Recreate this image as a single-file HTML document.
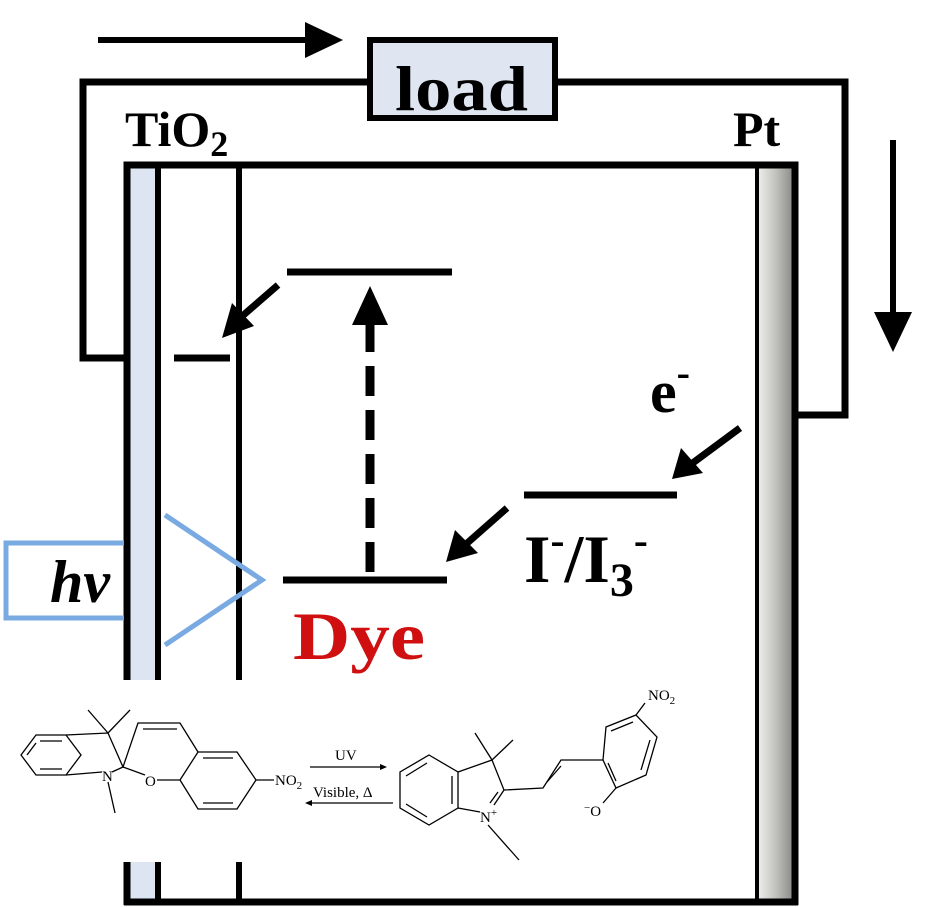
<!DOCTYPE html>
<html><head><style>
html,body{margin:0;padding:0;background:#fff;}
svg{display:block;}
</style></head><body>
<svg width="938" height="907" viewBox="0 0 938 907" xmlns="http://www.w3.org/2000/svg">
<defs>
<linearGradient id="pt" x1="0" x2="1" y1="0" y2="0">
<stop offset="0" stop-color="#f0f0ee"/><stop offset="0.5" stop-color="#c4c4c0"/><stop offset="1" stop-color="#8a8a86"/>
</linearGradient>
</defs>
<!-- external wire -->
<polyline points="370,82 83,82 83,358 128,358" fill="none" stroke="#000" stroke-width="7"/>
<polyline points="555,82 845,82 845,415 795,415" fill="none" stroke="#000" stroke-width="7"/>
<!-- load -->
<rect x="370" y="40" width="185" height="78" fill="#dfe6f2" stroke="#000" stroke-width="6"/>
<text x="395" y="110" textLength="133" lengthAdjust="spacingAndGlyphs" font-family="Liberation Serif" font-weight="bold" font-size="64">load</text>
<!-- top arrow -->
<line x1="98" y1="40" x2="310" y2="40" stroke="#000" stroke-width="6"/>
<polygon points="305,22 343,40 305,58" fill="#000"/>
<!-- right arrow -->
<line x1="893" y1="140" x2="893" y2="318" stroke="#000" stroke-width="6"/>
<polygon points="874,312 912,312 893,352" fill="#000"/>
<!-- labels -->
<text x="125" y="146" font-family="Liberation Serif" font-weight="bold" font-size="50">TiO<tspan font-size="36" dy="10">2</tspan></text>
<text x="733" y="146" font-family="Liberation Serif" font-weight="bold" font-size="50">Pt</text>
<!-- cell -->
<rect x="130" y="167" width="25" height="735" fill="#dde5f2"/>
<rect x="757" y="167" width="36" height="735" fill="url(#pt)"/>
<polyline points="127,905 127,165 795,165 795,905" fill="none" stroke="#000" stroke-width="7"/>
<line x1="124" y1="902" x2="798" y2="902" stroke="#000" stroke-width="7"/>
<line x1="158" y1="165" x2="158" y2="905" stroke="#000" stroke-width="6"/>
<line x1="239" y1="165" x2="239" y2="905" stroke="#000" stroke-width="6"/>
<line x1="757" y1="165" x2="757" y2="905" stroke="#000" stroke-width="4"/>
<!-- energy levels -->
<line x1="174" y1="358" x2="230" y2="358" stroke="#000" stroke-width="7"/>
<line x1="287" y1="272" x2="452" y2="272" stroke="#000" stroke-width="7"/>
<line x1="283" y1="580" x2="447" y2="580" stroke="#000" stroke-width="7"/>
<line x1="524" y1="495" x2="677" y2="495" stroke="#000" stroke-width="7"/>
<!-- dashed arrow -->
<line x1="370" y1="572" x2="370" y2="318" stroke="#000" stroke-width="9" stroke-dasharray="30,14"/>
<polygon points="352,325 388,325 370,286" fill="#000"/>
<!-- diagonal arrows -->
<line x1="278" y1="285" x2="240" y2="318" stroke="#000" stroke-width="7"/>
<polygon points="222,338 232,303 254,326" fill="#000"/>
<line x1="740" y1="428" x2="690" y2="465" stroke="#000" stroke-width="7"/>
<polygon points="672,479 681,448 703,473" fill="#000"/>
<line x1="507" y1="508" x2="465" y2="545" stroke="#000" stroke-width="7"/>
<polygon points="446,562 455,530 478,553" fill="#000"/>
<!-- texts -->
<text x="650" y="412" font-family="Liberation Serif" font-weight="bold" font-size="60">e<tspan font-size="40" dy="-26">-</tspan></text>
<text x="524" y="582" font-family="Liberation Serif" font-weight="bold" font-size="68">I<tspan font-size="42" dy="-28">-</tspan><tspan dy="28">/I</tspan><tspan font-size="48" dy="14">3</tspan><tspan font-size="42" dy="-42">-</tspan></text>
<text x="293" y="659" textLength="132" lengthAdjust="spacingAndGlyphs" font-family="Liberation Serif" font-weight="bold" font-size="68" fill="#d01010">Dye</text>
<!-- hv -->
<polyline points="124,543 6,543 6,618 124,618" fill="none" stroke="#7aaae2" stroke-width="5"/>
<text x="50" y="602" font-family="Liberation Serif" font-weight="bold" font-style="italic" font-size="60">hv</text>
<polyline points="165,515 262,580 165,645" fill="none" stroke="#7aaae2" stroke-width="5"/>
<!-- white overlay for chemical -->
<rect x="0" y="680" width="755" height="182" fill="#fff"/>
<g stroke="#000" stroke-width="1.3" fill="none">
<polygon points="36,735 66,735 81,755 66,775 36,775 21,755"/>
<line x1="40" y1="741" x2="62" y2="741"/><line x1="40" y1="769" x2="62" y2="769"/><line x1="27" y1="755" x2="36" y2="743"/>
<polyline points="66,735 108,733 123,767 112,772"/>
<line x1="66" y1="775" x2="102" y2="772"/>
<line x1="108" y1="733" x2="88" y2="710"/><line x1="108" y1="733" x2="130" y2="710"/>
<line x1="108" y1="782" x2="115" y2="813"/>
<polyline points="123,767 138,723 180,723 198,752"/>
<line x1="143" y1="729" x2="177" y2="729"/>
<line x1="123" y1="767" x2="145" y2="775"/>
<line x1="157" y1="780" x2="180" y2="780"/>
<polygon points="198,752 237,752 256,780 237,809 198,809 180,780"/>
<line x1="203" y1="758" x2="233" y2="758"/><line x1="203" y1="803" x2="233" y2="803"/>
<line x1="256" y1="780" x2="274" y2="780"/>
<line x1="310" y1="767" x2="380" y2="767"/>
<line x1="393" y1="803" x2="312" y2="803"/>
<polygon points="429,755 458,772 458,808 429,825 400,808 400,772"/>
<line x1="406" y1="776" x2="427" y2="763"/><line x1="406" y1="804" x2="427" y2="817"/><line x1="452" y1="776" x2="452" y2="804"/>
<polyline points="458,772 492,760 504,790 494,805"/>
<line x1="458" y1="808" x2="480" y2="812"/>
<line x1="498" y1="792" x2="490" y2="803"/>
<line x1="492" y1="760" x2="475" y2="733"/><line x1="492" y1="760" x2="513" y2="740"/>
<line x1="488" y1="825" x2="519" y2="860"/>
<polyline points="504,790 543,788 561,760 603,760"/>
<line x1="547" y1="782" x2="561" y2="766"/>
<polygon points="603,760 606,727 636,715 657,737 646,775 616,788"/>
<line x1="611" y1="731" x2="633" y2="722"/><line x1="650" y1="740" x2="641" y2="770"/><line x1="608" y1="763" x2="616" y2="781"/>
<line x1="636" y1="715" x2="645" y2="703"/>
<line x1="616" y1="788" x2="603" y2="803"/>
</g>
<polygon points="380,764 387,767 380,770" fill="#000"/>
<polygon points="312,800 305,803 312,806" fill="#000"/>
<g font-family="Liberation Serif" font-size="15" fill="#000">
<text x="102" y="781">N</text>
<text x="145" y="786">O</text>
<text x="275" y="785">NO<tspan font-size="11" dy="4">2</tspan></text>
<text x="335" y="760">UV</text>
<text x="313" y="797">Visible, Δ</text>
<text x="480" y="822">N<tspan font-size="11" dy="-6">+</tspan></text>
<text x="648" y="700">NO<tspan font-size="11" dy="4">2</tspan></text>
<text x="584" y="816"><tspan font-size="11" dy="-5">−</tspan><tspan dy="5">O</tspan></text>
</g>
</svg>
</body></html>
